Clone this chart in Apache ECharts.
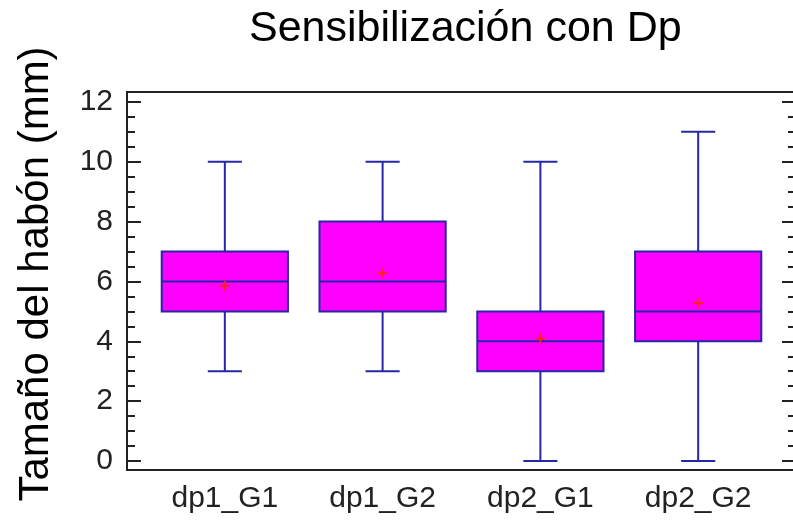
<!DOCTYPE html>
<html>
<head>
<meta charset="utf-8">
<script src="https://cdn.jsdelivr.net/npm/echarts@6/dist/echarts.min.js"></script>
<style>
  html, body { margin: 0; padding: 0; background: #fff; overflow: hidden; }
  #chart { width: 793px; height: 525px; }
</style>
</head>
<body>
<div id="chart"></div>
<script>
// datos
const categories = ['dp1_G1', 'dp1_G2', 'dp2_G1', 'dp2_G2'];
const mins = [3, 3, 0, 0];
const q1s = [5, 5, 3, 4];
const medians = [6, 6, 4, 5];
const q3s = [7, 8, 5, 7];
const maxs = [10, 10, 10, 11];
const means = [5.85, 6.28, 4.09, 5.28];
const yTicks = [0, 2, 4, 6, 8, 10, 12];
const yMinorTicks = [0.5, 1, 1.5, 2.5, 3, 3.5, 4.5, 5, 5.5, 6.5, 7, 7.5, 8.5, 9, 9.5, 10.5, 11, 11.5];

const FONT = 'Liberation Sans, Arial, sans-serif';
const BLUE = '#2626a8';

// [x, min, q1, mediana, q3, max, media]
const boxData = categories.map((c, i) => [i + 1, mins[i], q1s[i], medians[i], q3s[i], maxs[i], means[i]]);

const renderBox = (params, api) => {
  const x = api.value(0);
  const unit = api.size([1, 0])[0];
  const halfBox = unit * 0.4;
  const halfCap = unit * 0.108;
  const pMin = api.coord([x, api.value(1)]);
  const pQ1 = api.coord([x, api.value(2)]);
  const pMed = api.coord([x, api.value(3)]);
  const pQ3 = api.coord([x, api.value(4)]);
  const pMax = api.coord([x, api.value(5)]);
  const pMean = api.coord([x, api.value(6)]);
  const cx = pMed[0];
  const lineStyle = { stroke: BLUE, lineWidth: 2 };
  const line = (x1, y1, x2, y2, style) => ({
    type: 'line', shape: { x1, y1, x2, y2 }, style: style || lineStyle
  });
  const s = 5;
  return {
    type: 'group',
    children: [
      line(cx, pQ3[1], cx, pMax[1]),
      line(cx, pQ1[1], cx, pMin[1]),
      line(cx - halfCap, pMax[1], cx + halfCap, pMax[1]),
      line(cx - halfCap, pMin[1], cx + halfCap, pMin[1]),
      {
        type: 'rect',
        shape: { x: cx - halfBox, y: pQ3[1], width: halfBox * 2, height: pQ1[1] - pQ3[1] },
        style: { fill: '#ff00ff', stroke: BLUE, lineWidth: 2 }
      },
      line(cx - halfBox, pMed[1], cx + halfBox, pMed[1]),
      line(cx - s, pMean[1], cx + s, pMean[1], { stroke: '#ff2020', lineWidth: 2 }),
      line(cx, pMean[1] - s, cx, pMean[1] + s, { stroke: '#ff2020', lineWidth: 2 })
    ]
  };
};

const yBase = { type: 'value', min: -0.3, max: 12.33, splitLine: { show: false }, axisLine: { show: false } };

const chart = echarts.init(document.getElementById('chart'));
chart.setOption({
  animation: false,
  title: {
    text: 'Sensibilización con Dp',
    left: 244,
    top: 3,
    textStyle: { fontFamily: FONT, fontSize: 43, fontWeight: 'normal', color: '#000' }
  },
  grid: {
    left: 127, width: 669, top: 92, height: 378,
    outerBoundsMode: 'none',
    containLabel: false,
    show: true, borderColor: '#222', borderWidth: 2
  },
  xAxis: {
    type: 'value',
    min: 0.38,
    max: 4.62,
    splitLine: { show: false },
    axisLine: { show: false },
    axisTick: { show: false },
    axisLabel: {
      customValues: [1, 2, 3, 4],
      formatter: (v) => categories[Math.round(v) - 1] || '',
      fontFamily: FONT, fontSize: 30, color: '#222', margin: 14
    }
  },
  yAxis: [
    Object.assign({}, yBase, {
      position: 'left',
      name: 'Tamaño del habón (mm)',
      nameLocation: 'middle',
      nameRotate: 90,
      nameGap: 70,
      nameTextStyle: { fontFamily: FONT, fontSize: 42, color: '#000', padding: [0, 0, 0, 14] },
      axisTick: { show: true, inside: true, length: 14, customValues: yTicks, lineStyle: { color: '#222', width: 2 } },
      axisLabel: { customValues: yTicks, fontFamily: FONT, fontSize: 30, color: '#222', margin: 14 }
    }),
    Object.assign({}, yBase, {
      position: 'left',
      axisTick: { show: true, inside: true, length: 8, customValues: yMinorTicks, lineStyle: { color: '#222', width: 2 } },
      axisLabel: { show: false }
    }),
    Object.assign({}, yBase, {
      position: 'right',
      axisTick: { show: true, inside: true, length: 14, customValues: yTicks, lineStyle: { color: '#222', width: 2 } },
      axisLabel: { show: false }
    }),
    Object.assign({}, yBase, {
      position: 'right',
      axisTick: { show: true, inside: true, length: 8, customValues: yMinorTicks, lineStyle: { color: '#222', width: 2 } },
      axisLabel: { show: false }
    })
  ],
  series: [{
    type: 'custom',
    renderItem: renderBox,
    encode: { x: 0, y: [1, 2, 3, 4, 5, 6] },
    data: boxData
  }]
});
</script>
</body>
</html>
